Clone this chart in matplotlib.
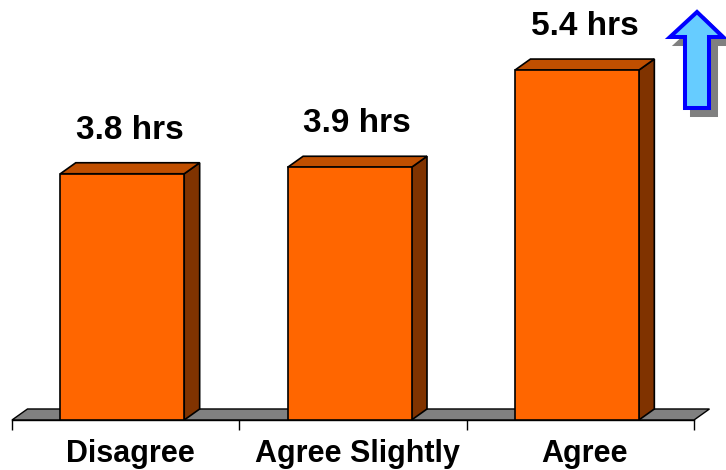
import numpy as np
import matplotlib
matplotlib.use('Agg')
import matplotlib.pyplot as plt
from matplotlib.patches import Polygon

# data
categories = ['Disagree', 'Agree Slightly', 'Agree']
hours = [3.8, 3.9, 5.4]
value_labels = ['3.8 hrs', '3.9 hrs', '5.4 hrs']

# colours
front_col = '#FF6600'
top_col = '#C04F00'
side_col = '#803300'
floor_col = '#808080'

plt.rcParams['font.family'] = ['Liberation Sans', 'DejaVu Sans']

fig = plt.figure(figsize=(7.26, 4.70), dpi=100)
ax = fig.add_axes([12/726, 50/470, 682/726, 420/470])
ax.set_xlim(-0.5, 2.5)
ax.set_ylim(0, 420/64.8)

# fake 3d depth (data units)
dx, dy = 0.068, 0.17
width = 0.545
shift = -0.015

# floor
ax.add_patch(Polygon([(-0.5, 0), (2.5, 0), (2.5+dx, dy), (-0.5+dx, dy)],
                     closed=True, fc=floor_col, ec='black', lw=1,
                     zorder=1, clip_on=False))

x = np.arange(len(categories))
bars = ax.bar(x + shift, hours, width, color=front_col, edgecolor='black',
              linewidth=1.2, zorder=3)
for b, v in zip(bars, hours):
    x0 = b.get_x()
    x1 = x0 + b.get_width()
    ax.add_patch(Polygon([(x1, 0), (x1+dx, dy), (x1+dx, v+dy), (x1, v)],
                         fc=side_col, ec='black', lw=1.2, zorder=2, clip_on=False))
    ax.add_patch(Polygon([(x0, v), (x1, v), (x1+dx, v+dy), (x0+dx, v+dy)],
                         fc=top_col, ec='black', lw=1.2, zorder=2, clip_on=False))

for i, (v, lab) in enumerate(zip(hours, value_labels)):
    ax.text(i + shift + dx/2, v + 0.54, lab, ha='center', va='baseline',
            fontsize=24, fontweight='bold', clip_on=False)

for i, cat in enumerate(categories):
    ax.text(i + 0.02, -0.648, cat, ha='center', va='baseline',
            fontsize=22, fontweight='bold', clip_on=False)

ax.set_xticks([-0.5, 0.5, 1.5, 2.5])
ax.set_xticklabels([])
ax.set_yticks([])
ax.tick_params(axis='x', length=7.2, width=1, direction='out', color='black')
for s in ['left', 'right', 'top']:
    ax.spines[s].set_visible(False)
ax.spines['bottom'].set_linewidth(1)
ax.patch.set_visible(False)

# up arrow in the corner (pixel coords)
ov = fig.add_axes([0, 0, 1, 1])
ov.set_xlim(0, 726)
ov.set_ylim(470, 0)
ov.axis('off')
ov.patch.set_visible(False)
arrow = np.array([(697, 12), (723, 37), (709, 37), (709, 108),
                  (685, 108), (685, 37), (670, 37)])
ov.add_patch(Polygon(arrow + [7, 7], closed=True, fc='#808080', ec='#808080',
                     lw=2.9, joinstyle='miter'))
ov.add_patch(Polygon(arrow, closed=True, fc='#66CCFF', ec='#0000FF',
                     lw=2.9, joinstyle='miter'))

fig.savefig('out.png', dpi=100, facecolor='white')
